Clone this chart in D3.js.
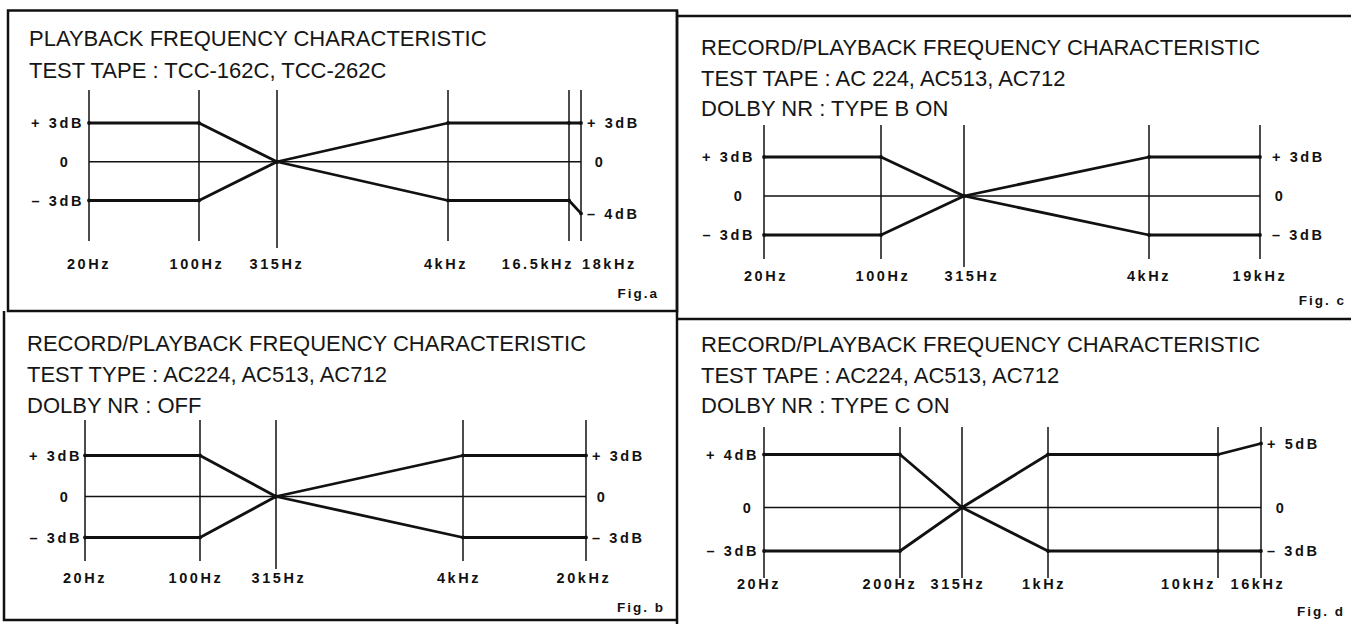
<!DOCTYPE html>
<html>
<head>
<meta charset="utf-8">
<script src="https://cdn.jsdelivr.net/npm/d3@7/dist/d3.min.js"></script>
<style>
body { margin: 0; background: #fff; }
svg { display: block; }
.title { font-family: "Liberation Sans", Arial, sans-serif; font-size: 22px; fill: #161616; }
.lbl { font-family: "Liberation Sans", Arial, sans-serif; font-weight: bold; font-size: 14.5px; letter-spacing: 2.6px; fill: #111; }
.fig { font-family: "Liberation Sans", Arial, sans-serif; font-weight: bold; font-size: 13.5px; letter-spacing: 2px; fill: #111; }
</style>
</head>
<body>
<svg id="chart" width="1351" height="624"></svg>
<script>
// Fig. a
var titleA = ["PLAYBACK FREQUENCY CHARACTERISTIC", "TEST TAPE : TCC-162C, TCC-262C"];
var freqA = [20, 100, 315, 4000, 16500, 18000];
var tickA = ["20Hz", "100Hz", "315Hz", "4kHz", "16.5kHz", "18kHz"];
var upperA = [3, 3, 0, 3, 3, 3];
var lowerA = [-3, -3, 0, -3, -3, -4];
var leftValA = [3, 0, -3], leftLabA = ["+ 3dB", "0", "– 3dB"];
var rightValA = [3, 0, -4], rightLabA = ["+ 3dB", "0", "– 4dB"];

// Fig. b
var titleB = ["RECORD/PLAYBACK FREQUENCY CHARACTERISTIC", "TEST TYPE : AC224, AC513, AC712", "DOLBY NR : OFF"];
var freqB = [20, 100, 315, 4000, 20000];
var tickB = ["20Hz", "100Hz", "315Hz", "4kHz", "20kHz"];
var upperB = [3, 3, 0, 3, 3];
var lowerB = [-3, -3, 0, -3, -3];
var leftValB = [3, 0, -3], leftLabB = ["+ 3dB", "0", "– 3dB"];
var rightValB = [3, 0, -3], rightLabB = ["+ 3dB", "0", "– 3dB"];

// Fig. c
var titleC = ["RECORD/PLAYBACK FREQUENCY CHARACTERISTIC", "TEST TAPE : AC 224, AC513, AC712", "DOLBY NR : TYPE B ON"];
var freqC = [20, 100, 315, 4000, 19000];
var tickC = ["20Hz", "100Hz", "315Hz", "4kHz", "19kHz"];
var upperC = [3, 3, 0, 3, 3];
var lowerC = [-3, -3, 0, -3, -3];
var leftValC = [3, 0, -3], leftLabC = ["+ 3dB", "0", "– 3dB"];
var rightValC = [3, 0, -3], rightLabC = ["+ 3dB", "0", "– 3dB"];

// Fig. d
var titleD = ["RECORD/PLAYBACK FREQUENCY CHARACTERISTIC", "TEST TAPE : AC224, AC513, AC712", "DOLBY NR : TYPE C ON"];
var freqD = [20, 200, 315, 1000, 10000, 16000];
var tickD = ["20Hz", "200Hz", "315Hz", "1kHz", "10kHz", "16kHz"];
var upperD = [4, 4, 0, 4, 4, 5];
var lowerD = [-3, -3, 0, -3, -3, -3];
var leftValD = [4, 0, -3], leftLabD = ["+ 4dB", "0", "– 3dB"];
var rightValD = [5, 0, -3], rightLabD = ["+ 5dB", "0", "– 3dB"];

var svg = d3.select("#chart");

// frame lines of the sheet
var frame = svg.append("g").attr("stroke", "#111").attr("fill", "none");
frame.append("rect").attr("x", 8).attr("y", 10.5).attr("width", 669).attr("height", 300.5).attr("stroke-width", 2.5);
frame.append("path").attr("d", "M4,311V620H677").attr("stroke-width", 2.5);
frame.append("path").attr("d", "M677,11V624").attr("stroke-width", 2.5);
frame.append("path").attr("d", "M677,16H1351").attr("stroke-width", 2.5);
frame.append("path").attr("d", "M677,319H1351").attr("stroke-width", 2.5);

function drawPanel(p) {
  var g = svg.append("g");
  // x axis is a schematic log axis, piecewise between the marked frequencies
  var x = d3.scaleLog().domain(p.freq).range(p.xStops);
  var y = d3.scaleLinear().domain(p.yDom).range(p.yRange);

  g.selectAll("text.title").data(p.title).enter().append("text")
    .attr("class", "title")
    .attr("x", p.titleX)
    .attr("y", (d, i) => p.titleY + i * p.titleGap)
    .text(d => d);

  // vertical lines at each frequency
  g.selectAll("line.v").data(p.freq).enter().append("line")
    .attr("x1", d => x(d)).attr("x2", d => x(d))
    .attr("y1", p.vTop)
    .attr("y2", d => d == 315 ? p.refBot : p.vBot)
    .attr("stroke", "#111").attr("stroke-width", 1.5);

  var f0 = p.freq[0], f1 = p.freq[p.freq.length - 1];
  g.append("line")
    .attr("x1", x(f0)).attr("x2", x(f1))
    .attr("y1", y(0)).attr("y2", y(0))
    .attr("stroke", "#111").attr("stroke-width", 1.5);

  var line = d3.line()
    .x((d, i) => x(p.freq[i]))
    .y(d => y(d));

  [p.upper, p.lower].forEach(function (s) {
    g.append("path").datum(s)
      .attr("d", line)
      .attr("fill", "none")
      .attr("stroke", "#111")
      .attr("stroke-width", 2.8)
      .attr("stroke-linejoin", "round");
    g.selectAll(null).data(s).enter().append("circle")
      .attr("cx", (d, i) => x(p.freq[i]))
      .attr("cy", d => y(d))
      .attr("r", 1.9).attr("fill", "#111");
  });

  // frequency labels
  g.selectAll("text.tick").data(p.freq).enter().append("text")
    .attr("class", "lbl")
    .attr("x", (d, i) => x(d) + (p.tickDx[i] || 0))
    .attr("y", p.tickY)
    .attr("text-anchor", (d, i) => p.tickAlign[i] || "middle")
    .text((d, i) => p.ticks[i]);

  // dB labels left
  g.selectAll("text.left").data(p.leftVal).enter().append("text")
    .attr("class", "lbl")
    .attr("x", d => d == 0 ? x(f0) - p.leftZero : x(f0) - p.leftGap)
    .attr("y", d => y(d))
    .attr("dy", "0.36em")
    .attr("text-anchor", d => d == 0 ? "middle" : "end")
    .text((d, i) => p.leftLab[i]);

  // dB labels right
  g.selectAll("text.right").data(p.rightVal).enter().append("text")
    .attr("class", "lbl")
    .attr("x", d => d == 0 ? x(f1) + p.rightZero : x(f1) + p.rightGap)
    .attr("y", d => y(d))
    .attr("dy", "0.36em")
    .attr("text-anchor", d => d == 0 ? "middle" : "start")
    .text((d, i) => p.rightLab[i]);

  g.append("text").attr("class", "fig")
    .attr("x", p.figX).attr("y", p.figY)
    .attr("text-anchor", "end")
    .text(p.fig);
}

drawPanel({
  title: titleA, titleX: 29, titleY: 46, titleGap: 32,
  freq: freqA, ticks: tickA, upper: upperA, lower: lowerA,
  leftVal: leftValA, leftLab: leftLabA, rightVal: rightValA, rightLab: rightLabA,
  xStops: [89, 199, 277, 448, 569, 581],
  yDom: [-3, 3], yRange: [200.5, 123],
  vTop: 90, vBot: 241, refBot: 248, tickY: 269,
  tickAlign: ["middle", "middle", "middle", "middle", "end", "start"],
  tickDx: [0, -2, 0, -2, 5, 1],
  leftGap: 5, leftZero: 24, rightGap: 6, rightZero: 19,
  fig: "Fig.a", figX: 659, figY: 298
});

drawPanel({
  title: titleB, titleX: 27, titleY: 351, titleGap: 31,
  freq: freqB, ticks: tickB, upper: upperB, lower: lowerB,
  leftVal: leftValB, leftLab: leftLabB, rightVal: rightValB, rightLab: rightLabB,
  xStops: [85, 200, 276, 463, 586],
  yDom: [-3, 3], yRange: [537.5, 455.5],
  vTop: 420, vBot: 561, refBot: 569, tickY: 583,
  tickAlign: [], tickDx: [0, -4, 3, -4, -2],
  leftGap: 3, leftZero: 20, rightGap: 6, rightZero: 16,
  fig: "Fig. b", figX: 665, figY: 612
});

drawPanel({
  title: titleC, titleX: 701, titleY: 55, titleGap: 30.5,
  freq: freqC, ticks: tickC, upper: upperC, lower: lowerC,
  leftVal: leftValC, leftLab: leftLabC, rightVal: rightValC, rightLab: rightLabC,
  xStops: [764, 881, 964, 1149, 1260],
  yDom: [-3, 3], yRange: [235, 157],
  vTop: 125, vBot: 259, refBot: 267, tickY: 281,
  tickAlign: [], tickDx: [2, 2, 8, 0, 0],
  leftGap: 9, leftZero: 25, rightGap: 12, rightZero: 20,
  fig: "Fig. c", figX: 1346, figY: 305
});

drawPanel({
  title: titleD, titleX: 701, titleY: 352, titleGap: 30.5,
  freq: freqD, ticks: tickD, upper: upperD, lower: lowerD,
  leftVal: leftValD, leftLab: leftLabD, rightVal: rightValD, rightLab: rightLabD,
  xStops: [764, 900, 962, 1048, 1218, 1261],
  yDom: [-3, 0, 4, 5], yRange: [551, 507.5, 454.5, 443.5],
  vTop: 427, vBot: 578, refBot: 578, tickY: 589,
  tickAlign: ["middle", "middle", "middle", "middle", "end", "middle"],
  tickDx: [-5, -10, -4, -4, -2, -3],
  leftGap: 5, leftZero: 16, rightGap: 6, rightZero: 20,
  fig: "Fig. d", figX: 1345, figY: 616
});
</script>
</body>
</html>
